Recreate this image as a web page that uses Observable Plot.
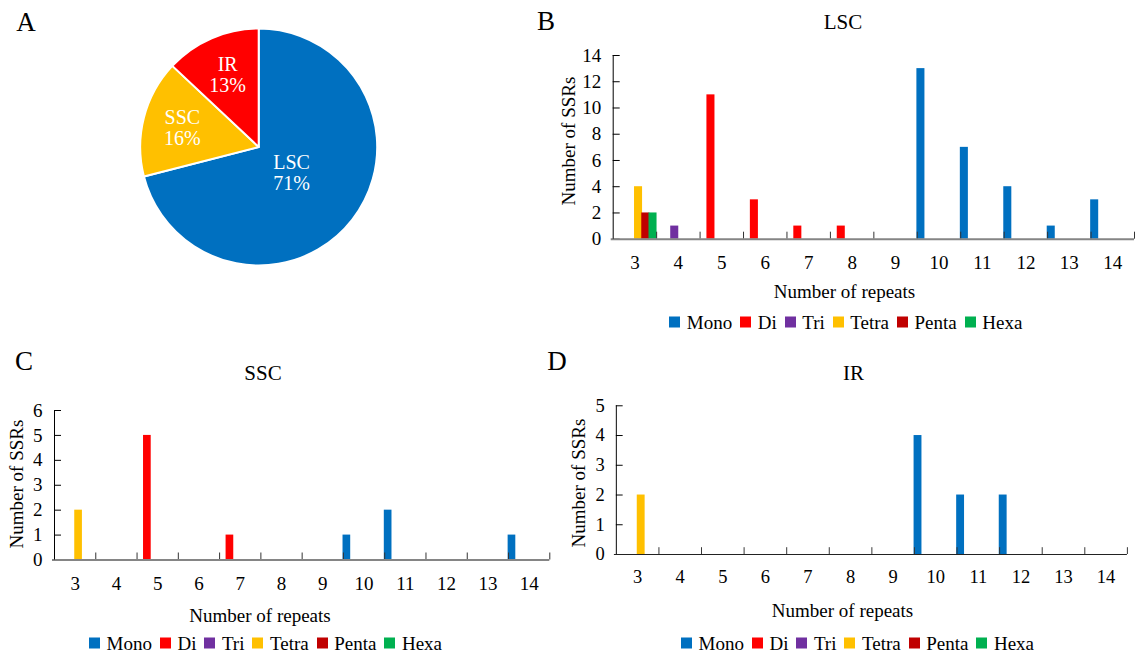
<!DOCTYPE html>
<html><head><meta charset="utf-8">
<script src="https://cdn.jsdelivr.net/npm/d3@7"></script>
<script src="https://cdn.jsdelivr.net/npm/@observablehq/plot@0.6"></script>
<style>
html,body{margin:0;padding:0;background:#fff;overflow:hidden;}
#root{position:relative;width:1135px;height:652px;overflow:hidden;font-family:"Liberation Serif","Times New Roman",serif;color:#000;}
.abs{position:absolute;}
.lbl{position:absolute;white-space:nowrap;line-height:1;transform:translate(-50%,-50%);}
.rot{transform:translate(-50%,-50%) rotate(-90deg);}
.legend{position:absolute;display:flex;align-items:center;font-size:19px;line-height:1;white-space:nowrap;transform:translateY(-50%);}
.legend .it{display:flex;align-items:center;margin-right:8px;}
.legend .sw{width:11px;height:11px;margin-right:6.5px;}
</style></head><body><div id="root"></div>
<script>
// ---------- data ----------
const repeats = [3,4,5,6,7,8,9,10,11,12,13,14];
const ssrTypes = ["Mono","Di","Tri","Tetra","Penta","Hexa"];
const typeColors = ["#0070C0","#FF0000","#7030A0","#FFC000","#C00000","#00B050"];

// counts for repeat numbers 3..14
const lscMono  = [0,0,0,0,0,0,0,13,7,4,1,3];
const lscDi    = [0,0,11,3,1,1,0,0,0,0,0,0];
const lscTri   = [0,1,0,0,0,0,0,0,0,0,0,0];
const lscTetra = [4,0,0,0,0,0,0,0,0,0,0,0];
const lscPenta = [2,0,0,0,0,0,0,0,0,0,0,0];
const lscHexa  = [2,0,0,0,0,0,0,0,0,0,0,0];

const sscMono  = [0,0,0,0,0,0,0,1,2,0,0,1];
const sscDi    = [0,0,5,0,1,0,0,0,0,0,0,0];
const sscTri   = [0,0,0,0,0,0,0,0,0,0,0,0];
const sscTetra = [2,0,0,0,0,0,0,0,0,0,0,0];
const sscPenta = [0,0,0,0,0,0,0,0,0,0,0,0];
const sscHexa  = [0,0,0,0,0,0,0,0,0,0,0,0];

const irMono  = [0,0,0,0,0,0,0,4,2,2,0,0];
const irDi    = [0,0,0,0,0,0,0,0,0,0,0,0];
const irTri   = [0,0,0,0,0,0,0,0,0,0,0,0];
const irTetra = [2,0,0,0,0,0,0,0,0,0,0,0];
const irPenta = [0,0,0,0,0,0,0,0,0,0,0,0];
const irHexa  = [0,0,0,0,0,0,0,0,0,0,0,0];

const lscYTicks = [0,2,4,6,8,10,12,14];
const sscYTicks = [0,1,2,3,4,5,6];
const irYTicks  = [0,1,2,3,4,5];

const pieRegions = ["LSC","SSC","IR"];
const piePercent = [71,16,13];
const pieColors  = ["#0070C0","#FFC000","#FF0000"];

// ---------- helpers ----------
const FONT = '"Liberation Serif","Times New Roman",serif';
const root = document.getElementById("root");

function toRows(series) {
  const rows = [];
  series.forEach((vals, ti) => vals.forEach((c, ri) => rows.push({repeat: repeats[ri], type: ssrTypes[ti], count: c})));
  return rows;
}
function place(node, left, top) {
  const d = document.createElement("div");
  d.className = "abs"; d.style.left = left + "px"; d.style.top = top + "px";
  d.appendChild(node); root.appendChild(d);
}
function label(text, x, y, size, rotate) {
  const d = document.createElement("div");
  d.className = "lbl" + (rotate ? " rot" : "");
  d.textContent = text;
  d.style.left = x + "px"; d.style.top = y + "px"; d.style.fontSize = size + "px";
  root.appendChild(d);
}
function legend(left, y) {
  const d = document.createElement("div");
  d.className = "legend"; d.style.left = left + "px"; d.style.top = y + "px";
  ssrTypes.forEach((t, i) => {
    const it = document.createElement("span"); it.className = "it";
    const sw = document.createElement("span"); sw.className = "sw"; sw.style.background = typeColors[i];
    const tx = document.createElement("span"); tx.textContent = t;
    it.appendChild(sw); it.appendChild(tx); d.appendChild(it);
  });
  root.appendChild(d);
}

const typeIndex = new Map(ssrTypes.map((t, i) => [t, i]));
const nT = ssrTypes.length;

function barPanel({series, yTicks, left, top, width, height, mLeft, mRight, mTop, mBottom, axisColor, axisWidth}) {
  const rows = toRows(series).filter(d => d.count > 0);
  const x0 = repeats[0] - 0.5, x1 = repeats[repeats.length - 1] + 0.5;
  const yMax = yTicks[yTicks.length - 1];
  const bounds = repeats.map(r => r + 0.5);
  const svg = Plot.plot({
    width, height,
    marginLeft: mLeft, marginRight: mRight, marginTop: mTop, marginBottom: mBottom,
    style: {fontFamily: FONT, fontSize: "19px", background: "transparent", overflow: "visible", color: "#000"},
    x: {type: "linear", domain: [x0, x1], axis: null},
    y: {domain: [0, yMax], axis: null},
    color: {domain: ssrTypes, range: typeColors},
    marks: [
      Plot.rectY(rows, {
        x1: d => d.repeat - 0.5 + typeIndex.get(d.type) / nT,
        x2: d => d.repeat - 0.5 + (typeIndex.get(d.type) + 1) / nT,
        y1: 0, y2: "count", fill: "type", insetLeft: -0.4, insetRight: -0.4
      }),
      Plot.ruleX(bounds, {x: d => d, y1: 0, y2: 0, insetBottom: 7, stroke: "#333", strokeWidth: 1}),
      Plot.ruleY(yTicks, {y: d => d, x1: x0, x2: x0, insetRight: -7, stroke: "#000", strokeWidth: 1}),
      Plot.ruleY([0], {x1: x0, x2: x1, insetLeft: -2, stroke: axisColor, strokeWidth: axisWidth}),
      Plot.ruleX([x0], {y1: 0, y2: yMax, stroke: "#000", strokeWidth: 1}),
      Plot.axisX(repeats, {anchor: "bottom", label: null, tickSize: 0, tickPadding: 16, fontSize: 19, tickFormat: d => String(d)}),
      Plot.axisY(yTicks, {anchor: "left", label: null, tickSize: 0, tickPadding: 12, fontSize: 19, tickFormat: d => String(d)})
    ]
  });
  place(svg, left, top);
}

// ---------- Panel A: pie ----------
const pieData = pieRegions.map((r, i) => ({region: r, pct: piePercent[i]}));
const arcs = d3.pie().sort(null).value(d => d.pct)(pieData);
const pieLabels = arcs.map(a => {
  const mid = (a.startAngle + a.endAngle) / 2;
  const rr = (a.endAngle - a.startAngle) > Math.PI ? 0.345 : 0.67;
  return {text: `${a.data.region}\n${a.data.pct}%`, x: rr * Math.sin(mid), y: rr * Math.cos(mid)};
});
const pie = Plot.plot({
  width: 400, height: 290, margin: 0,
  style: {fontFamily: FONT, background: "transparent"},
  x: {domain: [-1, 1], range: [140.2, 377.2], axis: null},
  y: {domain: [-1, 1], range: [265.5, 28.5], axis: null},
  color: {domain: pieRegions, range: pieColors},
  marks: [
    (index, scales) => {
      const cx = scales.x(0), cy = scales.y(0), r = scales.x(1) - cx;
      const col = scales.color || (d => pieColors[pieRegions.indexOf(d)]);
      const arc = d3.arc().innerRadius(0).outerRadius(r);
      const g = d3.create("svg:g").attr("transform", `translate(${cx},${cy})`);
      g.selectAll("path").data(arcs).join("path")
        .attr("d", arc).attr("fill", d => col(d.data.region))
        .attr("stroke", "#fff").attr("stroke-width", 2).attr("stroke-linejoin", "round");
      return g.node();
    },
    Plot.text(pieLabels, {x: "x", y: "y", text: "text", fill: "#fff", fontSize: 20, lineHeight: 1.08, fontFamily: FONT})
  ]
});
place(pie, 0, 0);

// ---------- Panel B: LSC ----------
barPanel({series: [lscMono, lscDi, lscTri, lscTetra, lscPenta, lscHexa], yTicks: lscYTicks,
  left: 540, top: 40, width: 595, height: 240, mLeft: 72.7, mRight: 1, mTop: 15, mBottom: 41.3,
  axisColor: "#858585", axisWidth: 2});
// ---------- Panel C: SSC ----------
barPanel({series: [sscMono, sscDi, sscTri, sscTetra, sscPenta, sscHexa], yTicks: sscYTicks,
  left: 0, top: 395, width: 560, height: 210, mLeft: 54, mRight: 10.7, mTop: 15, mBottom: 45.5,
  axisColor: "#858585", axisWidth: 2});
// ---------- Panel D: IR ----------
barPanel({series: [irMono, irDi, irTri, irTetra, irPenta, irHexa], yTicks: irYTicks,
  left: 560, top: 390, width: 590, height: 210, mLeft: 57.3, mRight: 8.3, mTop: 15.7, mBottom: 41.7,
  axisColor: "#222", axisWidth: 1.2});

// ---------- text ----------
label("A", 26, 22, 27);
label("B", 546, 21, 27);
label("C", 24, 361, 27);
label("D", 557, 361, 27);

label("LSC", 843, 22, 21);
label("SSC", 263, 373, 21);
label("IR", 853.5, 373, 21);

label("Number of repeats", 844.5, 291, 19);
label("Number of repeats", 260, 615, 19);
label("Number of repeats", 842.5, 610, 19);

label("Number of SSRs", 568, 141, 19, true);
label("Number of SSRs", 16, 484, 19, true);
label("Number of SSRs", 578, 482.5, 19, true);

legend(669.3, 322);
legend(89, 643);
legend(681, 642.7);
</script></body></html>
